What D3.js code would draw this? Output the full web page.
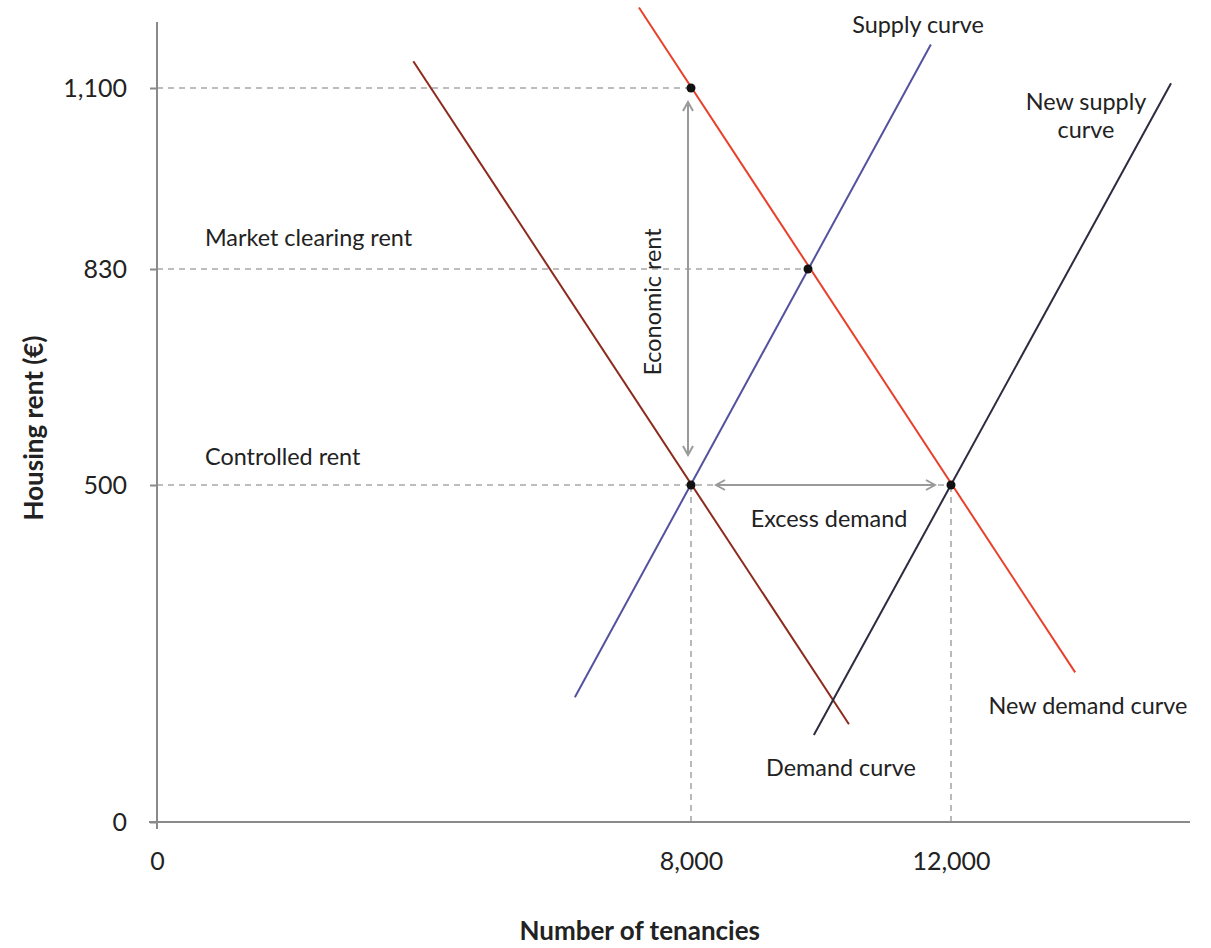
<!DOCTYPE html>
<html>
<head>
<meta charset="utf-8">
<script src="https://cdn.jsdelivr.net/npm/d3@7"></script>
<style>
  body { margin: 0; background: #fff; }
  text { font-family: Lato, "Open Sans", sans-serif; fill: #222; }
</style>
</head>
<body>
<svg id="chart" width="1211" height="948"></svg>
<script>
// ---- data (quantity = number of tenancies, price = rent in €) ----
const xTickValues = [0, 8000, 12000];
const xTickLabels = ["0", "8,000", "12,000"];
const yTickValues = [0, 500, 830, 1100];
const yTickLabels = ["0", "500", "830", "1,100"];

const demandCurve    = [{q: 3840, p: 1140}, {q: 10430, p: 145}];
const supplyCurve    = [{q: 6260, p: 185},  {q: 11690, p: 1165}];
const newDemandCurve = [{q: 7220, p: 1220}, {q: 13910, p: 222}];
const newSupplyCurve = [{q: 9890, p: 129},  {q: 15385, p: 1107}];

const keyPoints = [
  {q: 8000, p: 1100},
  {q: 9800, p: 830},
  {q: 8000, p: 500},
  {q: 12000, p: 500}
];
// horizontal guide lines: from q=0 to q at price p
const hGuides = [{p: 1100, q: 8000}, {p: 830, q: 9800}, {p: 500, q: 12000}];
// vertical guide lines: from p=0 to p at quantity q
const vGuides = [{q: 8000, p: 500}, {q: 12000, p: 500}];

// ---- scales ----
const svg = d3.select("#chart");
const x = d3.scaleLinear().domain([0, 8000, 12000]).range([157, 691, 951]);
const y = d3.scaleLinear().domain([0, 500, 830, 1100]).range([822, 485, 269, 88]);

const axisColor = "#8a8a8a";
const guideColor = "#a8a8a8";

// guides
svg.selectAll(".hguide").data(hGuides).join("line")
  .attr("x1", x(0)).attr("x2", d => x(d.q))
  .attr("y1", d => y(d.p)).attr("y2", d => y(d.p))
  .attr("stroke", guideColor).attr("stroke-width", 1.6).attr("stroke-dasharray", "6,5");
svg.selectAll(".vguide").data(vGuides).join("line")
  .attr("x1", d => x(d.q)).attr("x2", d => x(d.q))
  .attr("y1", y(0)).attr("y2", d => y(d.p))
  .attr("stroke", guideColor).attr("stroke-width", 1.6).attr("stroke-dasharray", "6,5");

// axes
const yAxis = d3.axisLeft(y).tickValues(yTickValues)
  .tickFormat((d, i) => yTickLabels[i]).tickSize(7).tickPadding(23);
const gy = svg.append("g").attr("transform", `translate(${x(0)},0)`).call(yAxis);
gy.select(".domain").remove();
gy.selectAll(".tick line").attr("stroke", axisColor).attr("stroke-width", 2);
gy.selectAll(".tick text").attr("font-size", 25).attr("fill", "#222")
  .style("font-family", "Lato, sans-serif");

const xAxis = d3.axisBottom(x).tickValues(xTickValues)
  .tickFormat((d, i) => xTickLabels[i]).tickSize(0).tickPadding(30);
const gx = svg.append("g").attr("transform", `translate(0,${y(0)})`).call(xAxis);
gx.select(".domain").remove();
gx.selectAll(".tick text").attr("font-size", 25).attr("fill", "#222")
  .style("font-family", "Lato, sans-serif");

svg.append("line").attr("x1", x(0)).attr("x2", x(0)).attr("y1", 22).attr("y2", y(0) + 7)
  .attr("stroke", axisColor).attr("stroke-width", 2);
svg.append("line").attr("x1", x(0) - 8).attr("x2", 1190).attr("y1", y(0)).attr("y2", y(0))
  .attr("stroke", axisColor).attr("stroke-width", 2);

// curves
const line = d3.line().x(d => x(d.q)).y(d => y(d.p));
const curves = [
  {data: demandCurve, color: "#8c2b1d"},
  {data: supplyCurve, color: "#54529e"},
  {data: newDemandCurve, color: "#e8402a"},
  {data: newSupplyCurve, color: "#2c2b40"}
];
svg.selectAll(".curve").data(curves).join("path")
  .attr("d", d => line(d.data)).attr("fill", "none")
  .attr("stroke", d => d.color).attr("stroke-width", 2);

// arrows
const defs = svg.append("defs");
defs.append("marker").attr("id", "chev").attr("viewBox", "0 0 12 12")
  .attr("refX", 10).attr("refY", 6).attr("markerWidth", 12).attr("markerHeight", 12)
  .attr("markerUnits", "userSpaceOnUse").attr("orient", "auto-start-reverse")
  .append("path").attr("d", "M1,1 L10,6 L1,11").attr("fill", "none")
  .attr("stroke", "#9a9a9a").attr("stroke-width", 2);

svg.append("line")
  .attr("x1", x(8000) - 3).attr("x2", x(8000) - 3)
  .attr("y1", y(1100) + 14).attr("y2", y(500) - 30)
  .attr("stroke", "#9a9a9a").attr("stroke-width", 2)
  .attr("marker-start", "url(#chev)").attr("marker-end", "url(#chev)");
svg.append("line")
  .attr("x1", x(8000) + 25).attr("x2", x(12000) - 16)
  .attr("y1", y(500)).attr("y2", y(500))
  .attr("stroke", "#9a9a9a").attr("stroke-width", 2)
  .attr("marker-start", "url(#chev)").attr("marker-end", "url(#chev)");

// points
svg.selectAll(".pt").data(keyPoints).join("circle")
  .attr("cx", d => x(d.q)).attr("cy", d => y(d.p)).attr("r", 4.5).attr("fill", "#111");

// labels
const lab = (t, px, py, anchor, size) => svg.append("text").text(t)
  .attr("x", px).attr("y", py).attr("text-anchor", anchor || "start")
  .attr("font-size", size || 23.4);
lab("Supply curve", 918, 33, "middle");
lab("New supply", 1086, 110, "middle");
lab("curve", 1086, 138, "middle");
lab("Market clearing rent", 205, 246, "start");
lab("Controlled rent", 205, 465, "start");
lab("Excess demand", 829, 527, "middle");
lab("Demand curve", 841, 776, "middle");
lab("New demand curve", 1088, 714, "middle");
svg.append("text").text("Economic rent")
  .attr("transform", "translate(661,302) rotate(-90)")
  .attr("text-anchor", "middle").attr("font-size", 23.4);

svg.append("text").text("Number of tenancies")
  .attr("x", 760).attr("y", 940).attr("text-anchor", "end")
  .attr("font-size", 26).attr("font-weight", "bold");
svg.append("text").text("Housing rent (€)")
  .attr("transform", "translate(43,428) rotate(-90)")
  .attr("text-anchor", "middle").attr("font-size", 26).attr("font-weight", "bold");
</script>
</body>
</html>
